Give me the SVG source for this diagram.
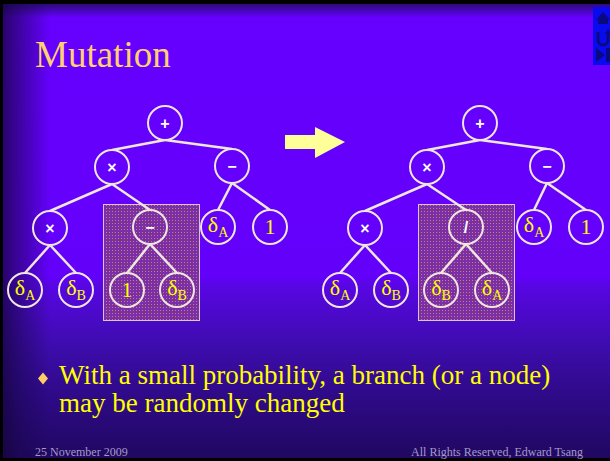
<svg xmlns="http://www.w3.org/2000/svg" width="610" height="461" viewBox="0 0 610 461">
  <defs>
    <linearGradient id="bg" gradientUnits="userSpaceOnUse" x1="0" y1="4" x2="0" y2="458">
      <stop offset="0" stop-color="#2c0a78"/>
      <stop offset="0.03" stop-color="#6600ff"/>
      <stop offset="0.6" stop-color="#6300fa"/>
      <stop offset="0.62" stop-color="#5806e4"/>
      <stop offset="0.75" stop-color="#3e0cae"/>
      <stop offset="0.85" stop-color="#300a8c"/>
      <stop offset="1" stop-color="#200860"/>
    </linearGradient>
    <linearGradient id="edge" gradientUnits="userSpaceOnUse" x1="3" y1="0" x2="50" y2="0">
      <stop offset="0" stop-color="#14043a" stop-opacity="0.75"/>
      <stop offset="0.45" stop-color="#1a0650" stop-opacity="0.45"/>
      <stop offset="1" stop-color="#1a0650" stop-opacity="0"/>
    </linearGradient>
    <pattern id="dots" width="3" height="3" patternUnits="userSpaceOnUse">
      <rect width="3" height="3" fill="#7a2ea8"/>
      <rect x="1" y="1" width="1" height="1" fill="#c88068"/>
    </pattern>
    <!-- hide connector segments inside the node rings -->
    <mask id="holes" maskUnits="userSpaceOnUse" x="0" y="0" width="610" height="461">
      <rect width="610" height="461" fill="#fff"/>
      <g fill="#000">
        <circle cx="165" cy="123" r="17"/><circle cx="112" cy="167" r="17"/><circle cx="232" cy="166" r="17"/>
        <circle cx="50" cy="228" r="17"/><circle cx="150" cy="227" r="17"/><circle cx="218" cy="227" r="17"/><circle cx="270" cy="227" r="17"/>
        <circle cx="25" cy="290" r="17"/><circle cx="76" cy="290" r="17"/><circle cx="127" cy="290" r="17"/><circle cx="177" cy="290" r="17"/>
        <circle cx="480" cy="123" r="17"/><circle cx="427" cy="167" r="17"/><circle cx="547" cy="166" r="17"/>
        <circle cx="365" cy="228" r="17"/><circle cx="466" cy="227" r="17"/><circle cx="534" cy="227" r="17"/><circle cx="586" cy="227" r="17"/>
        <circle cx="340" cy="290" r="17"/><circle cx="391" cy="290" r="17"/><circle cx="441" cy="290" r="17"/><circle cx="492" cy="290" r="17"/>
      </g>
    </mask>
  </defs>
  <style>
    .ring { fill: none; stroke: #efe6e0; stroke-width: 2; }
    .op { font-family: "Liberation Sans", Arial, sans-serif; font-size: 16px; font-weight: bold; fill: #ffffff; text-anchor: middle; }
    .leaf { font-family: "Liberation Serif", "Times New Roman", serif; font-size: 22px; fill: #ffff00; text-anchor: middle; }
    .sub { font-size: 14px; }
    .hl { fill: url(#dots); stroke: #d8c4dc; stroke-width: 1; }
    .foot { font-family: "Liberation Serif", "Times New Roman", serif; font-size: 12px; fill: #a49ac8; }
    .body { font-family: "Liberation Serif", "Times New Roman", serif; font-size: 27px; fill: #ffff00; }
  </style>

  <!-- slide frame and background -->
  <rect width="610" height="461" fill="#000"/>
  <rect x="3" y="4" width="607" height="454" fill="url(#bg)"/>
  <rect x="3" y="4" width="47" height="454" fill="url(#edge)"/>

  <!-- navigation buttons -->
  <g id="nav">
    <rect x="593" y="7" width="17" height="58" fill="#0a0aee"/>
    <path d="M596 20 L603 12 L610 20 Z M598 20 H608 V24 H598 Z" fill="#0a0a80"/>
    <path d="M598 32 V40 A5 5 0 0 0 608 40 V34" fill="none" stroke="#0a0a80" stroke-width="3"/>
    <path d="M605 34 L608 29 L611 34 Z" fill="#0a0a80"/>
    <path d="M596 48 L605 55 L596 62 Z" fill="#0a0a80"/>
    <rect x="606" y="48" width="4" height="14" fill="#0a0a80"/>
  </g>

  <text x="35" y="67" font-family="Liberation Serif, Times New Roman, serif" font-size="37" fill="#ffd070">Mutation</text>

  <!-- highlighted branches (the part that mutates) -->
  <rect id="a-branch" class="hl" x="103.5" y="204.5" width="96" height="116"/>
  <rect id="b-branch" class="hl" x="418.5" y="204.5" width="96" height="116"/>

  <!-- connectors -->
  <g id="connectors" stroke="#efe6e0" stroke-width="2.5" fill="none" mask="url(#holes)">
    <line x1="165" y1="140" x2="112" y2="150"/>
    <line x1="165" y1="140" x2="232" y2="149"/>
    <line x1="112" y1="184" x2="50" y2="211"/>
    <line x1="112" y1="184" x2="150" y2="210"/>
    <line x1="232" y1="183" x2="218" y2="210"/>
    <line x1="232" y1="183" x2="270" y2="210"/>
    <line x1="50" y1="245" x2="25" y2="273"/>
    <line x1="50" y1="245" x2="76" y2="273"/>
    <line x1="150" y1="244" x2="127" y2="273"/>
    <line x1="150" y1="244" x2="177" y2="273"/>

    <line x1="480" y1="140" x2="427" y2="150"/>
    <line x1="480" y1="140" x2="547" y2="149"/>
    <line x1="427" y1="184" x2="365" y2="211"/>
    <line x1="427" y1="184" x2="466" y2="210"/>
    <line x1="547" y1="183" x2="534" y2="210"/>
    <line x1="547" y1="183" x2="586" y2="210"/>
    <line x1="365" y1="245" x2="340" y2="273"/>
    <line x1="365" y1="245" x2="391" y2="273"/>
    <line x1="466" y1="244" x2="441" y2="273"/>
    <line x1="466" y1="244" x2="492" y2="273"/>
  </g>

  <!-- tree before mutation -->
  <g id="a-plus"><circle class="ring" cx="165" cy="123" r="17"/><text class="op" x="165" y="129" font-weight="normal">+</text></g>
  <g id="a-times"><circle class="ring" cx="112" cy="167" r="17"/><text class="op" x="112" y="173">×</text></g>
  <g id="a-minus"><circle class="ring" cx="232" cy="166" r="17"/><text class="op" x="232" y="172">−</text></g>
  <g id="a-times2"><circle class="ring" cx="50" cy="228" r="17"/><text class="op" x="50" y="234">×</text></g>
  <g id="a-minus2"><circle class="ring" cx="150" cy="227" r="17"/><text class="op" x="150" y="233">−</text></g>
  <g id="a-dA"><circle class="ring" cx="218" cy="227" r="17"/><text class="leaf" x="218" y="232">δ<tspan class="sub" dy="5">A</tspan></text></g>
  <g id="a-one"><circle class="ring" cx="270" cy="227" r="17"/><text class="leaf" x="270" y="234">1</text></g>
  <g id="a-dA2"><circle class="ring" cx="25" cy="290" r="17"/><text class="leaf" x="25" y="295">δ<tspan class="sub" dy="5">A</tspan></text></g>
  <g id="a-dB"><circle class="ring" cx="76" cy="290" r="17"/><text class="leaf" x="76" y="295">δ<tspan class="sub" dy="5">B</tspan></text></g>
  <g id="a-one2"><circle class="ring" cx="127" cy="290" r="17"/><text class="leaf" x="127" y="297">1</text></g>
  <g id="a-dB2"><circle class="ring" cx="177" cy="290" r="17"/><text class="leaf" x="177" y="295">δ<tspan class="sub" dy="5">B</tspan></text></g>

  <!-- transformation arrow -->
  <g id="arrow">
    <path d="M285 135 H315 V127 L345 142 L315 158 V149 H285 Z" fill="#ffff99"/>
  </g>

  <!-- tree after mutation -->
  <g id="b-plus"><circle class="ring" cx="480" cy="123" r="17"/><text class="op" x="480" y="129" font-weight="normal">+</text></g>
  <g id="b-times"><circle class="ring" cx="427" cy="167" r="17"/><text class="op" x="427" y="173">×</text></g>
  <g id="b-minus"><circle class="ring" cx="547" cy="166" r="17"/><text class="op" x="547" y="172">−</text></g>
  <g id="b-times2"><circle class="ring" cx="365" cy="228" r="17"/><text class="op" x="365" y="234">×</text></g>
  <g id="b-div"><circle class="ring" cx="466" cy="227" r="17"/><text class="op" x="466" y="233" font-weight="normal" fill="#f4eab0">/</text></g>
  <g id="b-dA"><circle class="ring" cx="534" cy="227" r="17"/><text class="leaf" x="534" y="232">δ<tspan class="sub" dy="5">A</tspan></text></g>
  <g id="b-one"><circle class="ring" cx="586" cy="227" r="17"/><text class="leaf" x="586" y="234">1</text></g>
  <g id="b-dA2"><circle class="ring" cx="340" cy="290" r="17"/><text class="leaf" x="340" y="295">δ<tspan class="sub" dy="5">A</tspan></text></g>
  <g id="b-dB"><circle class="ring" cx="391" cy="290" r="17"/><text class="leaf" x="391" y="295">δ<tspan class="sub" dy="5">B</tspan></text></g>
  <g id="b-dB2"><circle class="ring" cx="441" cy="290" r="17"/><text class="leaf" x="441" y="295">δ<tspan class="sub" dy="5">B</tspan></text></g>
  <g id="b-dA3"><circle class="ring" cx="492" cy="290" r="17"/><text class="leaf" x="492" y="295">δ<tspan class="sub" dy="5">A</tspan></text></g>

  <!-- bullet text -->
  <path d="M43 372.5 L48 378.5 L43 384.5 L38 378.5 Z" fill="#ffcc66"/>
  <text class="body" x="59" y="384">With a small probability, a branch (or a node)</text>
  <text class="body" x="59" y="412">may be randomly changed</text>

  <!-- footer -->
  <text class="foot" x="35" y="456">25 November 2009</text>
  <text class="foot" x="583" y="456" text-anchor="end">All Rights Reserved, Edward Tsang</text>
</svg>
